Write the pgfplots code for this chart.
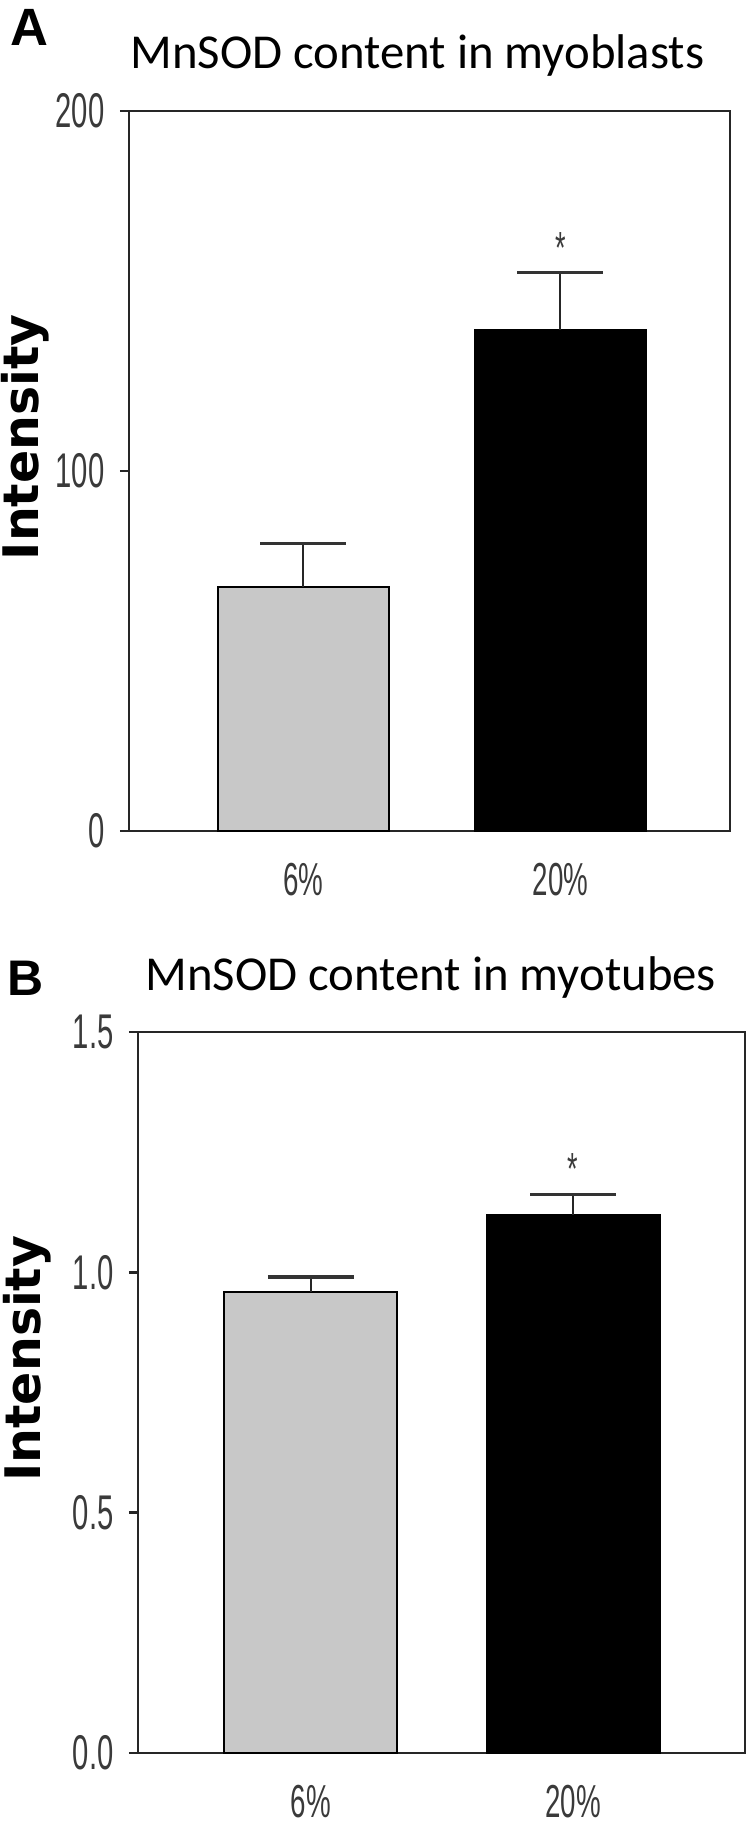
\documentclass[border=0pt]{standalone}
\usepackage{fontspec}
\setmainfont{Liberation Sans}
\newfontfamily\narrowfont[FakeStretch=0.6]{Liberation Sans}
\newfontfamily\titlefont{Carlito}
\newfontfamily\labfont{DejaVu Sans}
\usepackage{pgfplots}
\pgfplotsset{compat=1.18}

\definecolor{barg}{HTML}{C8C8C8}
\definecolor{ink}{HTML}{3A3A3A}

\pgfplotsset{
  panel/.style={
    scale only axis,
    axis line style={line width=1pt, black!85},
    ytick pos=left,
    tick align=outside,
    major tick length=3.6pt,
    every tick/.style={line width=1pt, black!85},
    xtick={0,1},
    xticklabels={6\%,20\%},
    x tick style={draw=none},
    /pgf/number format/assume math mode=true,
    tick label style={font=\narrowfont\fontsize{19.5pt}{19.5pt}\selectfont, text=ink},
    yticklabel style={inner sep=0pt, anchor=east, xshift=-6pt},
    xticklabel style={inner sep=0pt, anchor=north, yshift=-9pt,
      font=\narrowfont\fontsize{18.5pt}{18.5pt}\selectfont},
    ylabel style={font=\labfont\bfseries\fontsize{19.6pt}{19.6pt}\selectfont, rotate=0},
    clip=false,
  },
  gbar/.style={ybar, bar shift=0pt, fill=barg, draw=black, line width=0.8pt},
  kbar/.style={ybar, bar shift=0pt, fill=black, draw=black, line width=0.8pt},
  ebar/.style={error bars/.cd, y dir=plus, y explicit,
    error bar style={line width=0.8pt, black!85},
    error mark options={rotate=90, mark size=17.2pt, line width=1.4pt, black!80}},
}

\begin{document}
\begin{tikzpicture}
\useasboundingbox (0,0) rectangle (300pt,-730.8pt);

% panel A
\node[anchor=base west, inner sep=0pt, font=\bfseries\fontsize{21pt}{21pt}\selectfont] at (4pt,-18pt) {A};
\node[anchor=base west, inner sep=0pt, font=\titlefont\fontsize{19.5pt}{19.5pt}\selectfont] at (52pt,-27.2pt) {MnSOD content in myoblasts};

\begin{axis}[panel,
  at={(51.6pt,-332.4pt)}, anchor=south west,
  width=240.4pt, height=288pt,
  xmin=-0.679, xmax=1.660,
  ymin=0, ymax=200,
  ytick={0,100,200},
  yticklabels={0,100,200},
  ylabel={Intensity},
  ylabel style={at={(axis description cs:-0.173,0.547)}, anchor=center},
]
\addplot[gbar, bar width=0.665, ebar] coordinates {(0,67.9) +- (0,12.0)};
\addplot[kbar, bar width=0.665, ebar] coordinates {(1,139.3) +- (0,15.8)};
\node[anchor=north, inner sep=0pt, font=\narrowfont\fontsize{18pt}{18pt}\selectfont, text=ink] at (axis cs:1,166.5) {*};
\end{axis}

% panel B
\node[anchor=base west, inner sep=0pt, font=\bfseries\fontsize{20pt}{20pt}\selectfont] at (2.8pt,-398pt) {B};
\node[anchor=base west, inner sep=0pt, font=\titlefont\fontsize{19.5pt}{19.5pt}\selectfont] at (58pt,-396pt) {MnSOD content in myotubes};

\begin{axis}[panel,
  at={(55.2pt,-701.2pt)}, anchor=south west,
  width=242.8pt, height=288.4pt,
  xmin=-0.660, xmax=1.656,
  ymin=0, ymax=1.5,
  ytick={0,0.5,1,1.5},
  yticklabels={0.0,0.5,1.0,1.5},
  ylabel={Intensity},
  ylabel style={at={(axis description cs:-0.183,0.547)}, anchor=center},
]
\addplot[gbar, bar width=0.66, ebar] coordinates {(0,0.96) +- (0,0.03)};
\addplot[kbar, bar width=0.66, ebar] coordinates {(1,1.12) +- (0,0.042)};
\node[anchor=north, inner sep=0pt, font=\narrowfont\fontsize{18pt}{18pt}\selectfont, text=ink] at (axis cs:1,1.248) {*};
\end{axis}
\end{tikzpicture}
\end{document}
